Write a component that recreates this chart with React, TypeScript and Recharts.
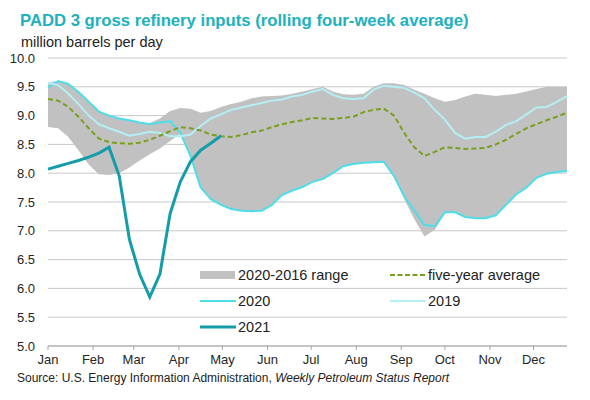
import { ComposedChart, Line, Area, XAxis, YAxis, CartesianGrid } from 'recharts'

// weekly values, week 1..52 (index 0..51)
const rangeLow = [
  8.8, 8.78, 8.63, 8.4, 8.15, 7.98, 7.97, 8.0, 8.1, 8.22, 8.33, 8.43, 8.56, 8.68, 8.3, 7.75, 7.55, 7.45,
  7.38, 7.35, 7.34, 7.35, 7.45, 7.62, 7.7, 7.76, 7.85, 7.9, 8.0, 8.12, 8.16, 8.18, 8.19, 8.2, 7.95, 7.55,
  7.2, 6.9, 7.02, 7.3, 7.32, 7.24, 7.22, 7.22, 7.27, 7.45, 7.63, 7.75, 7.92, 7.99, 8.02, 8.04,
]
const rangeHigh = [
  9.58, 9.6, 9.55, 9.42, 9.25, 9.07, 9.0, 8.95, 8.92, 8.88, 8.87, 8.95, 9.08, 9.13, 9.12, 9.05, 9.08, 9.15,
  9.2, 9.24, 9.3, 9.33, 9.34, 9.35, 9.38, 9.42, 9.46, 9.5, 9.42, 9.37, 9.36, 9.38, 9.5, 9.56, 9.56, 9.53,
  9.45, 9.38, 9.3, 9.24, 9.27, 9.33, 9.38, 9.36, 9.34, 9.36, 9.38, 9.42, 9.46, 9.5, 9.5, 9.5,
]
const fiveYearAvg = [
  9.29, 9.26, 9.15, 8.98, 8.78, 8.6, 8.54, 8.52, 8.51, 8.53, 8.58, 8.65, 8.73, 8.8, 8.78, 8.74, 8.67, 8.64,
  8.63, 8.66, 8.71, 8.74, 8.8, 8.85, 8.89, 8.92, 8.96, 8.95, 8.94, 8.96, 8.98, 9.06, 9.1, 9.12, 9.0, 8.7,
  8.45, 8.3, 8.37, 8.45, 8.44, 8.42, 8.43, 8.44, 8.5, 8.58, 8.68, 8.78, 8.85, 8.92, 8.98, 9.05,
]
const y2019 = [
  9.57, 9.53, 9.38, 9.2, 9.0, 8.85, 8.78, 8.72, 8.65, 8.68, 8.72, 8.7, 8.64, 8.64, 8.67, 8.82, 8.95, 9.02,
  9.1, 9.14, 9.18, 9.22, 9.26, 9.28, 9.33, 9.36, 9.42, 9.46, 9.36, 9.3, 9.29, 9.3, 9.45, 9.52, 9.5, 9.48,
  9.4, 9.3, 9.1, 8.93, 8.7, 8.6, 8.63, 8.63, 8.72, 8.84, 8.9, 9.02, 9.14, 9.15, 9.24, 9.34,
]
const y2020 = [
  9.48, 9.6, 9.55, 9.41, 9.24, 9.07, 9.0, 8.95, 8.92, 8.88, 8.85, 8.88, 8.9, 8.7, 8.3, 7.75, 7.55, 7.45,
  7.38, 7.35, 7.34, 7.35, 7.45, 7.62, 7.7, 7.76, 7.85, 7.9, 8.0, 8.12, 8.16, 8.18, 8.19, 8.2, 7.95, 7.6,
  7.35, 7.1, 7.08, 7.32, 7.32, 7.24, 7.22, 7.22, 7.27, 7.45, 7.63, 7.75, 7.92, 7.99, 8.02, 8.04,
]
const y2021 = [
  8.07, 8.12, 8.17, 8.22, 8.28, 8.35, 8.45, 7.95, 6.85, 6.25, 5.85, 6.25, 7.3, 7.85, 8.2, 8.4, 8.52, 8.65,
]

// month starts in week units (day of year / 7)
const monthTicks = [0, 4.43, 8.43, 12.86, 17.14, 21.57, 25.86, 30.29, 34.71, 39, 43.43, 47.71]
const monthLabels = ['Jan', 'Feb', 'Mar', 'Apr', 'May', 'Jun', 'Jul', 'Aug', 'Sep', 'Oct', 'Nov', 'Dec']
const yTicks = [5, 5.5, 6, 6.5, 7, 7.5, 8, 8.5, 9, 9.5, 10]

const data = rangeLow.map((low, i) => ({
  week: i,
  range: [low, rangeHigh[i]],
  avg: fiveYearAvg[i],
  y2019: y2019[i],
  y2020: y2020[i],
  y2021: i < y2021.length ? y2021[i] : null,
}))

const FONT = '"Liberation Sans", Arial, sans-serif'
const TITLE = '#20b1be'
const C2020 = '#4fdde9'
const C2019 = '#b3eff5'
const C2021 = '#149ca9'
const GREY = '#c1c1c1'
const OLIVE = '#7a9f1f'

const legend = [
  { x: 200, y: 275, label: '2020-2016 range', kind: 'bar', color: GREY },
  { x: 390, y: 275, label: 'five-year average', kind: 'dash', color: OLIVE },
  { x: 200, y: 301, label: '2020', kind: 'line', color: C2020 },
  { x: 390, y: 301, label: '2019', kind: 'line', color: C2019 },
  { x: 200, y: 327, label: '2021', kind: 'thick', color: C2021 },
]

function Swatch({ kind, color }: { kind: string; color: string }) {
  return (
    <svg width={36} height={12} style={{ display: 'block' }}>
      {kind === 'bar' && <rect x={0} y={2} width={35} height={8} fill={color} />}
      {kind === 'dash' && (
        <line x1={0} y1={6} x2={36} y2={6} stroke={color} strokeWidth={2} strokeDasharray="5 2.5" />
      )}
      {kind === 'line' && <line x1={0} y1={6} x2={36} y2={6} stroke={color} strokeWidth={2} />}
      {kind === 'thick' && <line x1={0} y1={6} x2={36} y2={6} stroke={color} strokeWidth={3} />}
    </svg>
  )
}

export default function App() {
  return (
    <div
      style={{
        position: 'fixed',
        left: 0,
        top: 0,
        width: 590,
        height: 400,
        background: '#fff',
        fontFamily: FONT,
        color: '#222',
      }}
    >
      <div
        style={{
          position: 'absolute',
          left: 20,
          top: 11,
          fontSize: 16.7,
          fontWeight: 'bold',
          color: TITLE,
          lineHeight: '20px',
          whiteSpace: 'nowrap',
        }}
      >
        PADD 3 gross refinery inputs (rolling four-week average)
      </div>
      <div style={{ position: 'absolute', left: 21, top: 33, fontSize: 14.5, lineHeight: '18px' }}>
        million barrels per day
      </div>
      <ComposedChart
        width={590}
        height={400}
        data={data}
        margin={{ top: 58, right: 23, left: 0, bottom: 24 }}
        style={{ position: 'absolute', left: 0, top: 0 }}
      >
        <CartesianGrid horizontal vertical={false} stroke="#c8c8c8" />
        <XAxis
          dataKey="week"
          type="number"
          domain={[0, 51]}
          ticks={monthTicks}
          tickFormatter={(v, i) => monthLabels[i]}
          interval={0}
          height={30}
          tickSize={4}
          tickMargin={5}
          axisLine={{ stroke: '#a6a6a6' }}
          tickLine={{ stroke: '#a6a6a6' }}
          tick={{ fill: '#262626', fontSize: 13, fontFamily: FONT }}
        />
        <YAxis
          domain={[5, 10]}
          ticks={yTicks}
          interval={0}
          width={48}
          axisLine={false}
          tickLine={false}
          tickSize={0}
          tickMargin={13}
          tickFormatter={(v) => v.toFixed(1)}
          tick={{ fill: '#262626', fontSize: 13, fontFamily: FONT }}
        />
        <Area
          dataKey="range"
          type="linear"
          fill={GREY}
          fillOpacity={1}
          stroke="none"
          isAnimationActive={false}
        />
        <Line dataKey="y2020" type="linear" stroke={C2020} strokeWidth={2} dot={false} isAnimationActive={false} />
        <Line dataKey="y2019" type="linear" stroke={C2019} strokeWidth={2} dot={false} isAnimationActive={false} />
        <Line
          dataKey="avg"
          type="linear"
          stroke={OLIVE}
          strokeWidth={2}
          strokeDasharray="5 3"
          dot={false}
          isAnimationActive={false}
        />
        <Line dataKey="y2021" type="linear" stroke={C2021} strokeWidth={3} dot={false} isAnimationActive={false} />
      </ComposedChart>
      {legend.map((l) => (
        <div
          key={l.label}
          style={{
            position: 'absolute',
            left: l.x,
            top: l.y - 9,
            height: 18,
            display: 'flex',
            alignItems: 'center',
            fontSize: 14.5,
            whiteSpace: 'nowrap',
          }}
        >
          <Swatch kind={l.kind} color={l.color} />
          <span style={{ marginLeft: 2 }}>{l.label}</span>
        </div>
      ))}
      <div style={{ position: 'absolute', left: 17, top: 371, fontSize: 12, lineHeight: '15px', whiteSpace: 'nowrap' }}>
        Source: U.S. Energy Information Administration, <i>Weekly Petroleum Status Report</i>
      </div>
    </div>
  )
}
